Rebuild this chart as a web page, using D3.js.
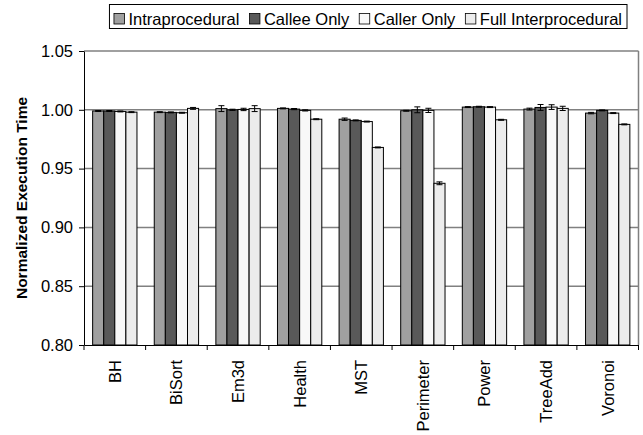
<!DOCTYPE html>
<meta charset="utf-8">
<style>
    body { margin: 0; background: #fff; }
    text { font-family: "Liberation Sans", Arial, sans-serif; fill: #000; }
    .grid line { stroke: #808080; stroke-width: 1.5; }
    .axis path, .axis line { stroke: #000; }
    .axis text { font-size: 16.5px; }
    rect.bar { stroke: #000; stroke-width: 1; }
    .err line { stroke: #000; stroke-width: 1; }
</style>
<body>
<script src="https://cdnjs.cloudflare.com/ajax/libs/d3/7.8.5/d3.min.js"></script>
<script>

    var categories = ["BH", "BiSort", "Em3d", "Health", "MST", "Perimeter", "Power", "TreeAdd", "Voronoi"];
    var seriesNames = ["Intraprocedural", "Callee Only", "Caller Only", "Full Interprocedural"];
    var seriesColors = ["#a0a0a0", "#595959", "#f8f8f8", "#ececec"];

    var intra  = [0.999, 0.998, 1.001, 1.0012, 0.992, 0.9992, 1.0023, 1.0006, 0.9972];
    var callee = [0.999, 0.9978, 1.000, 1.0006, 0.991, 1.000, 1.0026, 1.002, 0.9995];
    var caller = [0.9986, 0.9975, 1.0003, 0.9995, 0.990, 0.9995, 1.0023, 1.0023, 0.9972];
    var full   = [0.998, 1.0012, 1.001, 0.992, 0.968, 0.9375, 0.9915, 1.0012, 0.9876];

    var intraErr  = [0.0004, 0.0004, 0.0025, 0.0004, 0.001, 0.0004, 0.0004, 0.0008, 0.0006];
    var calleeErr = [0.0004, 0.0004, 0.0005, 0.0005, 0.0004, 0.0025, 0.0004, 0.0025, 0.0004];
    var callerErr = [0.0004, 0.0004, 0.001, 0.0005, 0.0004, 0.0018, 0.0004, 0.002, 0.0004];
    var fullErr   = [0.0004, 0.0008, 0.0025, 0.0004, 0.0004, 0.0012, 0.0004, 0.0018, 0.0004];

    var yTicks = [0.80, 0.85, 0.90, 0.95, 1.00, 1.05];

    var values = [intra, callee, caller, full];
    var errors = [intraErr, calleeErr, callerErr, fullErr];

    var margin = {top: 51, right: 4.5, bottom: 90, left: 84},
        width = 643 - margin.left - margin.right,
        height = 435 - margin.top - margin.bottom;

    var svg = d3.select("body").append("svg")
        .attr("width", 643)
        .attr("height", 435);

    var g = svg.append("g")
        .attr("transform", "translate(" + margin.left + "," + margin.top + ")");

    var x0 = d3.scaleBand().domain(categories).range([0, width]);
    var x1 = d3.scaleBand().domain(seriesNames).range([0, x0.bandwidth()]).paddingOuter(0.78);
    var y = d3.scaleLinear().domain([0.80, 1.05]).range([height, 0]);

    // gridlines
    g.append("g").attr("class", "grid")
        .selectAll("line")
        .data(yTicks.slice(1))
        .enter().append("line")
        .attr("x1", 0).attr("x2", width)
        .attr("y1", function(d) { return y(d); })
        .attr("y2", function(d) { return y(d); });

    g.append("line")
        .attr("x1", width).attr("x2", width)
        .attr("y1", 0).attr("y2", height)
        .attr("stroke", "#808080").attr("stroke-width", 1.5);

    // bars
    var rows = [];
    categories.forEach(function(c, i) {
        seriesNames.forEach(function(s, j) {
            rows.push({cat: c, series: s, idx: j, value: values[j][i], err: errors[j][i]});
        });
    });

    g.append("g").selectAll("rect")
        .data(rows)
        .enter().append("rect")
        .attr("class", "bar")
        .attr("x", function(d) { return x0(d.cat) + x1(d.series); })
        .attr("y", function(d) { return y(d.value); })
        .attr("width", x1.bandwidth())
        .attr("height", function(d) { return height - y(d.value); })
        .attr("fill", function(d) { return seriesColors[d.idx]; });

    // error bars
    var err = g.append("g").attr("class", "err").selectAll("g")
        .data(rows)
        .enter().append("g")
        .attr("transform", function(d) { return "translate(" + (x0(d.cat) + x1(d.series) + x1.bandwidth() / 2) + ",0)"; });
    err.append("line")
        .attr("y1", function(d) { return y(d.value + d.err); })
        .attr("y2", function(d) { return y(d.value - d.err); });
    err.append("line")
        .attr("x1", -3).attr("x2", 3)
        .attr("y1", function(d) { return y(d.value + d.err); })
        .attr("y2", function(d) { return y(d.value + d.err); });
    err.append("line")
        .attr("x1", -3).attr("x2", 3)
        .attr("y1", function(d) { return y(d.value - d.err); })
        .attr("y2", function(d) { return y(d.value - d.err); });

    // axes
    g.append("g").attr("class", "axis")
        .call(d3.axisLeft(y).tickValues(yTicks).tickFormat(d3.format(".2f")).tickSize(5).tickSizeOuter(0).tickPadding(6));

    var xAxis = g.append("g").attr("class", "axis")
        .attr("transform", "translate(0," + height + ")")
        .call(d3.axisBottom(x0).tickSize(0).tickSizeOuter(0).tickFormat(""));

    xAxis.selectAll(".sep")
        .data(categories.concat(["end"]))
        .enter().append("line")
        .attr("class", "sep")
        .attr("x1", function(d, i) { return i * x0.step(); })
        .attr("x2", function(d, i) { return i * x0.step(); })
        .attr("y1", 0).attr("y2", 5);

    xAxis.selectAll(".lbl")
        .data(categories)
        .enter().append("text")
        .attr("class", "lbl")
        .attr("transform", function(d) { return "translate(" + (x0(d) + x0.bandwidth() / 2 + 6) + ",15) rotate(-90)"; })
        .style("text-anchor", "end")
        .text(function(d) { return d; });

    svg.append("text")
        .attr("transform", "translate(27," + (margin.top + height / 2) + ") rotate(-90)")
        .style("text-anchor", "middle")
        .style("font-size", "15.5px")
        .style("font-weight", "bold")
        .text("Normalized Execution Time");

    // legend, laid out then aligned to the right edge
    var legend = svg.append("g");
    var box = legend.append("rect")
        .attr("fill", "#fff").attr("stroke", "#000").attr("stroke-width", 1);
    var items = legend.append("g");
    var lx = 0;
    seriesNames.forEach(function(s, j) {
        items.append("rect")
            .attr("x", lx).attr("y", 13.5)
            .attr("width", 10.5).attr("height", 10.5)
            .attr("fill", seriesColors[j]).attr("stroke", "#000").attr("stroke-width", 0.8);
        var t = items.append("text")
            .attr("x", lx + 14.5).attr("y", 25)
            .style("font-size", "16.5px")
            .text(s);
        lx += 14.5 + t.node().getComputedTextLength() + 10;
    });
    var itemsW = lx - 10;
    var boxRight = 627;
    var left = boxRight - 5 - itemsW;
    items.attr("transform", "translate(" + left + ",0)");
    box.attr("x", left - 4.5).attr("y", 4.5).attr("width", itemsW + 9.5).attr("height", 24);

</script>
